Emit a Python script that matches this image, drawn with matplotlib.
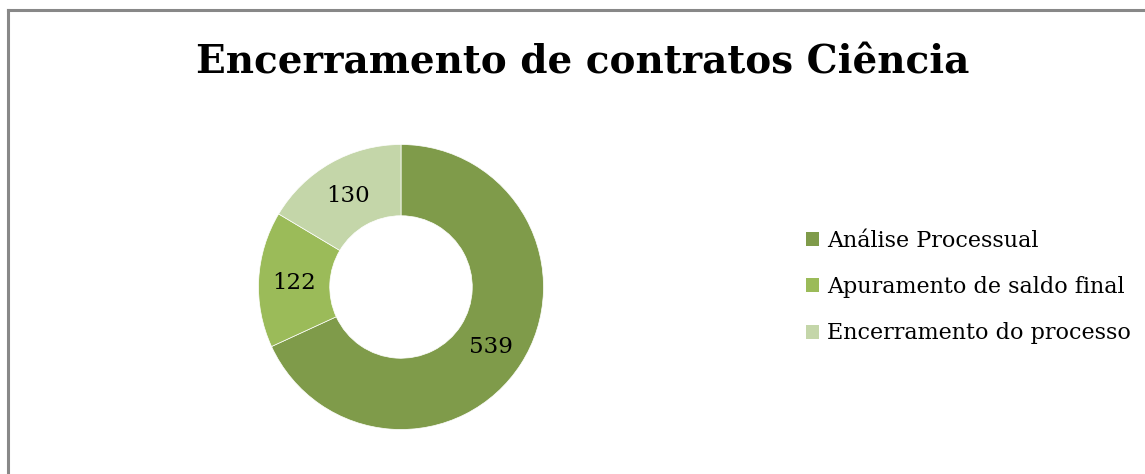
import matplotlib
matplotlib.use("Agg")
import matplotlib.pyplot as plt
import numpy as np
from matplotlib.lines import Line2D
from matplotlib.patches import Patch

categories = ["Análise Processual", "Apuramento de saldo final", "Encerramento do processo"]
values = [539, 122, 130]
colors = ["#7F9B4A", "#9BBB59", "#C4D6A9"]
title = "Encerramento de contratos Ciência"

W, H = 1145, 474
fig = plt.figure(figsize=(W / 100, H / 100), dpi=100)
fig.patch.set_facecolor("white")

cx, cy, r = 401, 287, 142.5
ax = fig.add_axes([(cx - r) / W, (H - cy - r) / H, 2 * r / W, 2 * r / H])
wedges, texts = ax.pie(values, colors=colors, startangle=90, counterclock=False,
                       radius=1.0, wedgeprops=dict(width=0.5, edgecolor="white", linewidth=0.5))
for w, v in zip(wedges, values):
    ang = np.deg2rad((w.theta1 + w.theta2) / 2)
    ax.text(0.75 * np.cos(ang), 0.75 * np.sin(ang) - 0.015, str(v), ha="center", va="center",
            fontsize=16.5, family="DejaVu Serif", color="black")
ax.set_xlim(-1, 1)
ax.set_ylim(-1, 1)
ax.set_aspect("auto")
ax.axis("off")

fig.text(583 / W, 1 - 62 / H, title, ha="center", va="center", fontsize=28,
         fontweight="bold", family="DejaVu Serif")

handles = [Patch(facecolor=c, edgecolor="none") for c in colors]
leg = fig.legend(handles, categories, loc="center left", bbox_to_anchor=(795 / W, 1 - 287 / H),
                 frameon=False, prop=dict(family="DejaVu Serif", size=16),
                 handlelength=0.6, handleheight=0.6, handletextpad=0.35, labelspacing=1.1,
                 borderpad=0)

fig.add_artist(Line2D([8 / W, 8 / W], [0, 1 - 10 / H], color="#888888", lw=2.2, transform=fig.transFigure))
fig.add_artist(Line2D([8 / W, 1.0], [1 - 10 / H, 1 - 10 / H], color="#888888", lw=2.2, transform=fig.transFigure))

fig.savefig("out.png", dpi=100, facecolor="white")
